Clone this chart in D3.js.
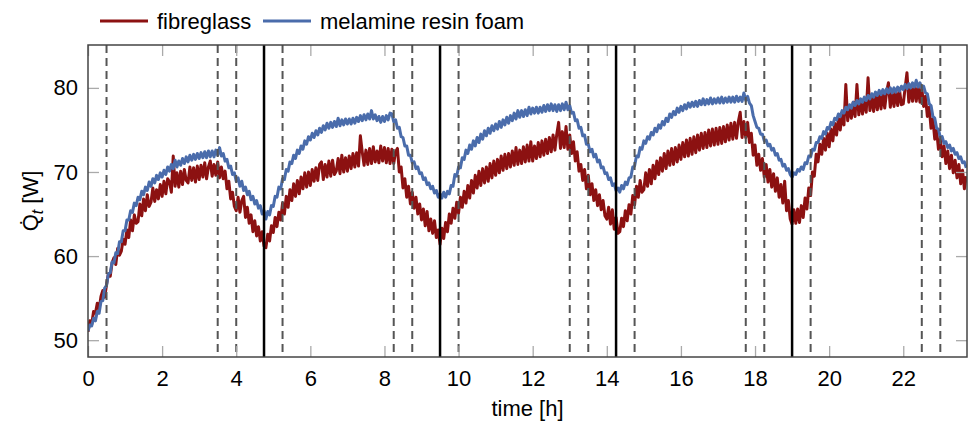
<!DOCTYPE html>
<html>
<head>
<meta charset="utf-8">
<script src="https://cdn.jsdelivr.net/npm/d3@7"></script>
<style>
  body { margin: 0; background: #fff; }
  svg { font-family: "Liberation Sans", Arial, sans-serif; }
</style>
</head>
<body>
<div id="chart"></div>
<script>
// samples every 0.05 h (one row = one hour)
var step = 0.05;

var fibreglass = [
  51.0, 52.3, 51.9, 53.4, 53.2, 54.4, 53.7, 55.2, 55.9, 55.1, 56.6, 57.9, 57.6, 59.2, 59.8, 59.0, 60.9, 60.1, 60.6, 62.0,
  61.4, 63.1, 62.2, 64.3, 63.0, 64.9, 63.9, 64.1, 66.2, 64.8, 66.8, 65.4, 67.3, 65.9, 66.4, 68.1, 66.5, 67.9, 66.8, 68.5,
  67.1, 68.9, 67.4, 69.2, 68.8, 67.6, 71.9, 68.3, 69.9, 68.2, 70.1, 68.5, 70.3, 69.0, 68.7, 70.6, 69.0, 70.5, 68.8, 70.7,
  69.1, 70.8, 69.4, 71.1, 69.2, 70.6, 71.3, 69.5, 70.9, 69.6, 71.2, 69.3, 70.6, 69.2, 70.1, 68.0, 68.9, 66.8, 67.6, 65.9,
  65.4, 67.0, 65.2, 66.6, 67.1, 64.6, 65.8, 63.9, 64.9, 62.9, 64.2, 62.4, 63.5, 61.8, 62.9, 61.2, 61.0, 62.6, 61.8, 63.6,
  62.8, 64.6, 63.5, 65.2, 64.3, 66.3, 65.0, 67.1, 65.8, 67.9, 66.6, 68.6, 67.1, 69.0, 67.4, 69.4, 68.0, 69.9, 68.2, 70.0,
  68.4, 70.3, 68.9, 70.5, 69.0, 70.9, 71.2, 69.1, 70.9, 69.4, 71.3, 69.5, 71.4, 69.7, 70.1, 71.6, 69.8, 72.0, 70.0, 71.7,
  70.1, 71.9, 70.4, 72.2, 70.6, 72.3, 70.7, 74.3, 72.4, 70.8, 72.6, 70.9, 72.8, 71.0, 73.0, 71.2, 72.5, 71.1, 73.1, 71.3,
  72.9, 71.1, 72.8, 71.0, 72.7, 71.0, 72.4, 72.8, 70.0, 70.6, 68.1, 69.2, 67.0, 68.3, 66.2, 67.6, 65.7, 67.0, 65.0, 66.2,
  64.3, 65.6, 63.6, 65.3, 63.0, 64.4, 62.7, 64.2, 62.2, 63.1, 61.4, 63.3, 62.1, 64.0, 62.9, 65.0, 63.9, 65.7, 64.5, 66.4,
  65.1, 67.0, 65.8, 67.7, 66.3, 68.4, 66.9, 69.0, 67.5, 69.6, 68.1, 70.1, 68.4, 70.4, 68.7, 70.6, 68.9, 71.0, 69.3, 71.3,
  69.6, 71.5, 69.9, 71.9, 70.2, 72.1, 70.4, 72.2, 70.6, 72.5, 70.8, 72.9, 70.9, 72.6, 71.0, 73.0, 71.2, 73.2, 71.3, 73.6,
  71.3, 73.1, 71.6, 73.5, 71.8, 73.7, 72.0, 73.9, 72.2, 74.1, 72.4, 74.4, 72.6, 74.5, 75.9, 72.8, 74.8, 72.9, 75.4, 72.7,
  74.4, 72.2, 73.6, 71.3, 72.4, 70.1, 70.9, 69.0, 70.3, 68.0, 69.6, 67.3, 68.6, 66.6, 67.9, 66.0, 67.3, 65.5, 66.6, 64.8,
  64.4, 65.8, 63.8, 65.5, 63.2, 64.6, 62.7, 62.9, 64.5, 63.5, 65.4, 64.2, 66.1, 65.0, 67.2, 66.1, 68.3, 67.0, 69.0, 67.6,
  67.9, 69.9, 68.3, 70.3, 68.6, 70.8, 69.2, 71.3, 69.7, 71.7, 70.1, 72.2, 70.4, 72.5, 70.8, 72.8, 70.9, 72.9, 71.2, 73.2,
  71.5, 73.5, 71.8, 73.8, 71.9, 74.0, 72.1, 74.2, 72.3, 74.4, 72.6, 74.6, 72.8, 74.7, 72.9, 75.0, 73.1, 75.1, 73.2, 75.2,
  73.3, 75.3, 73.4, 75.4, 73.6, 75.6, 73.8, 75.8, 73.9, 75.9, 74.0, 76.0, 77.1, 74.1, 76.0, 74.1, 75.9, 73.5, 74.6, 72.0,
  73.2, 70.8, 72.1, 70.2, 71.6, 69.4, 70.9, 68.8, 70.3, 68.2, 69.8, 67.7, 69.3, 67.0, 68.5, 66.3, 68.9, 65.4, 66.6, 64.4,
  63.8, 65.5, 63.9, 65.6, 64.0, 66.0, 64.6, 66.9, 65.6, 68.1, 67.2, 70.0, 69.5, 72.1, 71.2, 73.3, 72.1, 74.0, 72.6, 74.6,
  73.0, 75.1, 73.7, 75.8, 74.4, 76.4, 75.0, 76.9, 75.6, 80.4, 76.1, 77.8, 76.4, 78.3, 76.6, 80.4, 76.8, 78.6, 76.9, 78.7,
  77.1, 81.2, 77.3, 79.0, 77.2, 79.2, 77.4, 79.3, 77.5, 79.4, 77.6, 79.5, 80.6, 77.7, 79.5, 77.8, 79.6, 77.9, 79.7, 78.0,
  78.1, 80.0, 81.8, 78.3, 80.2, 78.4, 80.3, 78.4, 80.2, 78.3, 80.0, 77.8, 79.0, 76.6, 77.7, 75.2, 76.3, 73.9, 75.0, 72.7,
  73.9, 71.8, 73.1, 71.0, 72.5, 70.4, 72.0, 69.9, 71.4, 69.3, 70.9, 68.6, 70.2, 68.0, 69.5
];

var melamine = [
  51.1, 51.8, 51.7, 52.6, 52.3, 53.4, 53.2, 54.6, 54.7, 56.2, 56.5, 57.9, 58.0, 59.3, 59.2, 60.4, 60.3, 61.7, 61.7, 63.0,
  63.0, 64.3, 64.3, 65.4, 65.2, 66.3, 66.0, 67.0, 66.7, 67.7, 67.3, 68.2, 67.8, 68.8, 68.3, 69.2, 68.7, 69.6, 69.1, 69.9,
  69.4, 70.2, 69.7, 70.6, 70.1, 70.9, 70.4, 71.4, 70.6, 71.3, 70.8, 71.6, 71.0, 71.8, 71.2, 72.0, 71.4, 72.1, 71.5, 72.2,
  71.6, 72.3, 71.7, 72.4, 71.7, 72.5, 71.8, 72.5, 71.8, 72.6, 72.0, 72.9, 71.9, 72.2, 71.3, 71.5, 70.5, 70.7, 69.7, 69.9,
  68.9, 69.3, 68.3, 68.9, 67.8, 68.2, 67.3, 67.7, 66.7, 67.1, 66.2, 66.6, 65.7, 66.0, 65.0, 65.4, 64.4, 65.3, 64.9, 66.0,
  65.9, 67.1, 67.0, 68.2, 68.0, 69.2, 69.1, 70.3, 70.1, 71.2, 71.0, 72.0, 71.6, 72.6, 72.2, 73.1, 72.7, 73.7, 73.3, 74.2,
  73.8, 74.6, 74.1, 74.9, 74.4, 75.2, 74.7, 75.5, 75.0, 75.8, 75.2, 75.9, 75.3, 76.0, 75.4, 76.4, 75.5, 76.2, 75.6, 76.3,
  75.7, 76.3, 75.7, 76.4, 75.8, 76.5, 76.0, 76.7, 76.1, 76.8, 76.2, 76.9, 76.3, 77.3, 76.3, 76.8, 76.1, 76.6, 75.9, 76.6,
  76.0, 76.7, 76.2, 77.0, 76.9, 76.0, 76.2, 75.2, 75.3, 74.2, 74.1, 73.1, 73.1, 72.0, 72.0, 71.1, 71.2, 70.4, 70.6, 69.8,
  69.9, 69.1, 69.3, 68.5, 68.7, 68.0, 68.3, 67.5, 67.8, 67.0, 67.4, 66.9, 67.6, 67.0, 67.7, 67.4, 68.4, 68.3, 69.7, 69.5,
  70.6, 70.5, 71.7, 71.5, 72.6, 72.2, 73.2, 72.7, 73.7, 73.1, 74.1, 73.5, 74.5, 73.9, 74.9, 74.3, 75.2, 74.6, 75.5, 74.9,
  75.7, 75.1, 76.0, 75.3, 76.2, 75.6, 76.5, 75.8, 76.7, 76.1, 77.0, 76.3, 77.3, 76.5, 77.3, 76.6, 77.4, 76.7, 77.7, 76.9,
  77.6, 77.0, 77.7, 77.0, 77.7, 77.1, 77.9, 77.2, 78.0, 77.3, 78.1, 77.3, 78.0, 77.2, 78.0, 77.3, 78.1, 77.4, 78.3, 77.4,
  77.9, 77.0, 77.1, 76.1, 76.2, 75.2, 75.3, 74.3, 74.4, 73.3, 73.3, 72.4, 72.7, 71.8, 72.1, 71.2, 71.4, 70.5, 70.6, 69.8,
  69.9, 69.1, 69.3, 68.4, 68.6, 67.8, 68.1, 67.6, 68.4, 68.0, 68.8, 68.5, 69.3, 69.4, 70.6, 70.7, 71.9, 71.8, 72.9, 72.7,
  73.7, 73.4, 74.2, 73.9, 74.7, 74.4, 75.2, 74.8, 75.6, 75.2, 76.0, 75.6, 76.4, 76.0, 76.9, 76.5, 77.2, 76.8, 77.6, 77.1,
  77.8, 77.3, 78.0, 77.5, 78.2, 77.7, 78.3, 77.8, 78.4, 77.8, 78.5, 78.0, 78.7, 78.0, 78.6, 78.1, 78.8, 78.1, 78.7, 78.2,
  78.8, 78.2, 78.9, 78.2, 78.8, 78.3, 78.9, 78.3, 78.9, 78.3, 79.0, 78.4, 78.9, 78.4, 79.4, 78.5, 79.0, 78.2, 77.9, 76.7,
  76.0, 75.3, 75.2, 74.5, 74.5, 73.7, 73.8, 73.1, 73.3, 72.6, 72.8, 72.0, 72.2, 71.4, 71.5, 70.7, 70.9, 70.2, 70.4, 69.7,
  69.4, 69.9, 69.7, 70.3, 70.1, 70.6, 70.3, 71.1, 71.0, 71.9, 71.8, 72.7, 72.6, 73.5, 73.5, 74.2, 74.0, 74.8, 74.5, 75.3,
  75.1, 75.9, 75.6, 76.4, 76.2, 76.9, 76.6, 77.3, 77.0, 77.7, 77.4, 78.0, 77.6, 78.3, 77.9, 78.5, 78.1, 78.7, 78.3, 78.9,
  78.5, 79.1, 78.7, 79.3, 78.9, 79.5, 79.1, 79.7, 79.2, 79.8, 79.3, 79.9, 79.4, 80.0, 79.4, 80.0, 79.5, 80.1, 79.6, 80.2,
  79.8, 80.4, 79.9, 80.5, 80.0, 80.6, 80.1, 80.9, 80.1, 80.6, 80.0, 80.2, 79.4, 79.3, 78.1, 77.9, 76.6, 76.4, 75.2, 75.1,
  74.1, 74.2, 73.4, 73.6, 72.9, 73.2, 72.5, 72.8, 72.1, 72.3, 71.6, 71.8, 71.1, 71.2, 70.5
];

var solidTimes = [4.75, 9.5, 14.25, 19];
var dashedTimes = [0.5, 3.5, 4, 5.25, 8.25, 8.75, 10, 13, 13.5, 14.75, 17.75, 18.25, 19.5, 22.5, 23];
var xTicks = [0, 2, 4, 6, 8, 10, 12, 14, 16, 18, 20, 22];
var yTicks = [50, 60, 70, 80];
var seriesNames = ["fibreglass", "melamine resin foam"];
var seriesColors = ["#8c1111", "#4a6cab"];

var width = 971, height = 421;
var margin = {top: 45, right: 4, bottom: 64, left: 88};
var w = width - margin.left - margin.right,
    h = height - margin.top - margin.bottom;

var x = d3.scaleLinear().domain([0, 23.72]).range([0, w]);
var y = d3.scaleLinear().domain([48, 85.1]).range([h, 0]);

var svg = d3.select("#chart").append("svg")
    .attr("width", width)
    .attr("height", height);

var g = svg.append("g")
    .attr("transform", "translate(" + margin.left + "," + margin.top + ")");

g.append("clipPath").attr("id", "clip")
  .append("rect").attr("width", w).attr("height", h);

// data lines
var line = d3.line()
    .x(function(d, i) { return x(i * step); })
    .y(function(d) { return y(d); });

var plot = g.append("g").attr("clip-path", "url(#clip)");
[fibreglass, melamine].forEach(function(s, k) {
  plot.append("path")
    .attr("d", line(s))
    .attr("fill", "none")
    .attr("stroke", seriesColors[k])
    .attr("stroke-width", 3)
    .attr("stroke-linejoin", "round");
});

// event markers
plot.selectAll(".dashed").data(dashedTimes).enter().append("line")
    .attr("x1", function(d) { return x(d); })
    .attr("x2", function(d) { return x(d); })
    .attr("y1", 0).attr("y2", h)
    .attr("stroke", "#555")
    .attr("stroke-width", 2)
    .attr("stroke-dasharray", "8,5");

plot.selectAll(".solid").data(solidTimes).enter().append("line")
    .attr("x1", function(d) { return x(d); })
    .attr("x2", function(d) { return x(d); })
    .attr("y1", 0).attr("y2", h)
    .attr("stroke", "#000")
    .attr("stroke-width", 2.5);

// axes, ticks pointing inward
var xb = g.append("g").attr("transform", "translate(0," + h + ")")
    .call(d3.axisBottom(x).tickValues(xTicks).tickSize(-11).tickPadding(13));
var xt = g.append("g")
    .call(d3.axisTop(x).tickValues(xTicks).tickSize(-11).tickFormat(""));
var yl = g.append("g")
    .call(d3.axisLeft(y).tickValues(yTicks).tickSize(-11).tickPadding(10));
var yr = g.append("g").attr("transform", "translate(" + w + ",0)")
    .call(d3.axisRight(y).tickValues(yTicks).tickSize(-11).tickFormat(""));

[xb, xt, yl, yr].forEach(function(a) {
  a.select(".domain").remove();
  a.selectAll(".tick line").attr("stroke", "#aaa").attr("stroke-width", 1.3);
  a.selectAll(".tick text")
    .attr("font-family", "'Liberation Sans', Arial, sans-serif")
    .attr("font-size", 22)
    .attr("fill", "#000");
});

g.append("rect")
    .attr("width", w).attr("height", h)
    .attr("fill", "none")
    .attr("stroke", "#444")
    .attr("stroke-width", 1.5);

// axis titles
svg.append("text")
    .attr("x", margin.left + w / 2)
    .attr("y", 416)
    .attr("text-anchor", "middle")
    .attr("font-size", 22)
    .text("time [h]");

var yt = svg.append("text")
    .attr("transform", "translate(38," + (margin.top + h / 2) + ") rotate(-90)")
    .attr("text-anchor", "middle")
    .attr("font-size", 22);
yt.append("tspan").text("Q\u0307");
yt.append("tspan").attr("font-style", "italic").attr("font-size", 16).attr("dy", 5).text("t");
yt.append("tspan").attr("dy", -5).text(" [W]");

// legend
var legend = svg.append("g");
var lx = [100, 263];
seriesNames.forEach(function(name, k) {
  legend.append("line")
    .attr("x1", lx[k]).attr("x2", lx[k] + 48)
    .attr("y1", 21).attr("y2", 21)
    .attr("stroke", seriesColors[k])
    .attr("stroke-width", 3);
  legend.append("text")
    .attr("x", lx[k] + 57)
    .attr("y", 29)
    .attr("font-size", 22)
    .text(name);
});
</script>
</body>
</html>
